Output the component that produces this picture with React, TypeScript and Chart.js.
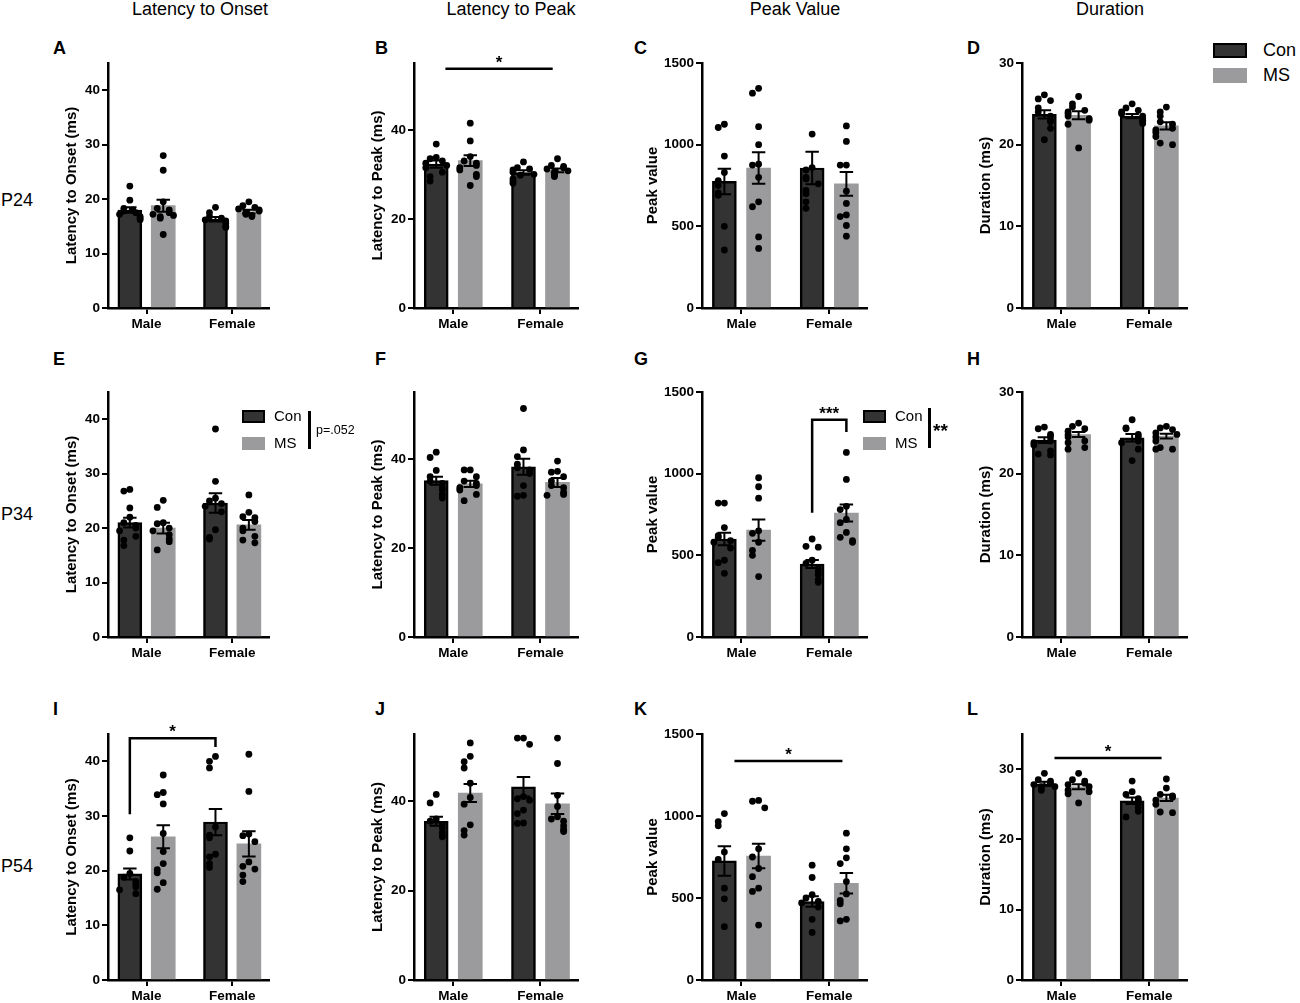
import React, { useEffect, useRef } from 'react';
import { Chart, registerables } from 'chart.js';

Chart.register(...registerables);

const FONT = '"Liberation Sans", Arial, Helvetica, sans-serif';
Chart.defaults.font.family = FONT;

const CATEGORIES = ['Male', 'Female'];
const COLUMN_TITLES = ['Latency to Onset', 'Latency to Peak', 'Peak Value', 'Duration'];
const ROW_LABELS = ['P24', 'P34', 'P54'];

const CON_FILL = '#333333';
const MS_FILL = '#9b9b9d';

// means / SEM per group: [Male, Female]; dots: [Male Con, Male MS, Female Con, Female MS]
// A – P24 latency to onset
const A_CON = [18.0, 16.3];
const A_CON_SEM = [0.5, 0.4];
const A_MS = [18.8, 17.7];
const A_MS_SEM = [1.1, 0.35];
const A_DOTS = [
  [22.4, 19.8, 18.3, 17.8, 17.5, 17.2, 16.8, 16.5, 16.2, 18.0],
  [28.0, 25.3, 19.5, 18.3, 18.0, 17.5, 17.2, 17.0, 16.8, 16.5, 13.5],
  [18.5, 17.5, 16.8, 16.5, 16.2, 16.0, 15.5, 15.0, 14.8],
  [19.5, 18.8, 18.5, 18.2, 18.0, 17.8, 17.5, 17.2, 17.0, 16.8],
];

// B – P24 latency to peak
const B_CON = [32.3, 30.4];
const B_CON_SEM = [0.8, 0.5];
const B_MS = [33.1, 30.9];
const B_MS_SEM = [1.2, 0.4];
const B_DOTS = [
  [36.8, 33.8, 33.5, 33.0, 32.5, 32.0, 31.5, 30.5, 29.5, 28.5],
  [41.5, 37.5, 34.0, 33.0, 32.5, 32.0, 31.5, 31.0, 30.0, 29.5, 27.5],
  [32.8, 31.5, 31.2, 31.0, 30.5, 30.0, 29.8, 29.0, 28.5, 28.0],
  [33.5, 32.0, 31.8, 31.5, 31.2, 30.8, 30.5, 30.0, 29.8, 29.5],
];

// C – P24 peak value
const C_CON = [775, 857];
const C_CON_SEM = [78, 100];
const C_MS = [857, 760];
const C_MS_SEM = [97, 72];
const C_DOTS = [
  [1125, 1105, 930, 830, 780, 750, 705, 690, 500, 355],
  [1345, 1315, 1110, 1000, 880, 875, 800, 650, 620, 435, 365],
  [1065, 860, 845, 800, 790, 760, 720, 700, 650, 610],
  [1115, 1020, 875, 875, 715, 640, 570, 560, 505, 440],
];

// D – P24 duration
const D_CON = [23.7, 23.5];
const D_CON_SEM = [0.5, 0.25];
const D_MS = [23.6, 22.3];
const D_MS_SEM = [0.5, 0.45];
const D_DOTS = [
  [26.1, 25.6, 25.4, 24.5, 24.0, 23.5, 23.0, 22.8, 22.0, 20.6],
  [25.9, 25.0, 24.6, 24.2, 24.0, 23.8, 23.5, 23.2, 23.0, 22.5, 19.6],
  [25.0, 24.5, 24.2, 24.0, 23.8, 23.5, 23.2, 23.0, 22.8, 22.6],
  [24.6, 24.0, 23.5, 22.8, 22.5, 22.0, 21.8, 21.5, 21.0, 20.2, 20.0],
];

// E – P34 latency to onset
const E_CON = [21.0, 24.6];
const E_CON_SEM = [0.9, 1.8];
const E_MS = [20.0, 20.6];
const E_MS_SEM = [1.0, 0.9];
const E_DOTS = [
  [27.1, 26.8, 23.7, 22.0, 21.0, 20.5, 20.0, 19.5, 18.5, 17.8, 16.8],
  [25.1, 23.8, 21.0, 20.8, 20.0, 19.5, 18.8, 18.0, 17.5, 16.0],
  [38.2, 28.6, 25.5, 25.0, 24.5, 24.0, 23.0, 19.7, 18.3, 18.0],
  [26.1, 22.9, 22.1, 21.9, 21.2, 20.0, 19.5, 18.5, 17.8, 17.3],
];

// F – P34 latency to peak
const F_CON = [35.1, 38.2];
const F_CON_SEM = [0.9, 1.8];
const F_MS = [34.4, 34.7];
const F_MS_SEM = [0.7, 1.0];
const F_DOTS = [
  [41.5, 40.3, 37.4, 36.0, 35.0, 34.5, 33.5, 33.0, 32.0, 31.2],
  [37.5, 37.5, 36.0, 35.0, 34.5, 34.0, 33.5, 33.0, 32.0, 30.6],
  [51.3, 42.0, 40.5, 38.8, 38.0, 37.5, 36.7, 34.0, 31.8, 31.6],
  [39.5, 37.2, 37.0, 36.0, 35.0, 34.0, 33.5, 32.5, 32.0, 31.8],
];

// G – P34 peak value
const G_CON = [600, 447];
const G_CON_SEM = [38, 25];
const G_MS = [655, 759];
const G_MS_SEM = [65, 52];
const G_DOTS = [
  [820, 820, 670, 620, 610, 590, 580, 545, 470, 455, 390],
  [975, 920, 850, 650, 635, 580, 530, 500, 370],
  [600, 555, 550, 470, 450, 420, 400, 380, 350, 335],
  [1130, 965, 800, 780, 720, 700, 640, 610, 590, 580],
];

// H – P34 duration
const H_CON = [24.1, 24.4];
const H_CON_SEM = [0.35, 0.45];
const H_MS = [24.8, 24.6];
const H_MS_SEM = [0.3, 0.3];
const H_DOTS = [
  [25.7, 25.5, 24.8, 24.5, 24.0, 23.8, 23.5, 22.8, 22.4, 22.3],
  [26.2, 25.8, 25.5, 25.2, 24.8, 24.5, 24.0, 23.8, 23.2, 23.0],
  [26.6, 25.6, 25.5, 24.8, 24.5, 24.0, 23.8, 23.0, 21.6],
  [25.8, 25.6, 25.4, 25.0, 24.8, 24.5, 24.0, 23.2, 23.0, 23.0],
];

// I – P54 latency to onset
const I_CON = [19.4, 28.9];
const I_CON_SEM = [1.0, 2.4];
const I_MS = [26.2, 24.9];
const I_MS_SEM = [2.1, 2.3];
const I_DOTS = [
  [26.0, 23.6, 19.5, 18.8, 18.0, 17.5, 17.0, 16.5, 15.8],
  [37.5, 34.3, 33.9, 32.2, 26.8, 23.5, 21.3, 20.2, 19.6, 17.8, 16.6],
  [40.9, 40.0, 38.8, 28.0, 26.5, 26.0, 23.0, 22.5, 21.3, 20.6],
  [41.3, 34.5, 26.7, 26.4, 25.3, 21.6, 20.8, 20.3, 19.2, 18.0],
];

// J – P54 latency to peak
const J_CON = [35.5, 43.2];
const J_CON_SEM = [1.0, 2.2];
const J_MS = [41.8, 39.4];
const J_MS_SEM = [2.0, 2.3];
const J_DOTS = [
  [41.5, 39.6, 36.0, 35.5, 34.8, 34.0, 33.0, 32.3, 32.0],
  [53.0, 50.0, 48.8, 47.4, 44.0, 40.8, 39.3, 34.7, 33.4, 32.4],
  [54.1, 54.1, 52.7, 41.0, 40.5, 40.2, 38.0, 37.2, 35.1, 35.0],
  [54.1, 48.4, 41.3, 38.8, 36.5, 36.0, 35.5, 34.5, 33.7, 33.2],
];

// K – P54 peak value
const K_CON = [726, 478];
const K_CON_SEM = [90, 32];
const K_MS = [756, 590];
const K_MS_SEM = [75, 62];
const K_DOTS = [
  [1015, 965, 940, 780, 735, 560, 495, 325],
  [1095, 1090, 1050, 800, 750, 680, 630, 560, 540, 335],
  [700, 625, 520, 500, 480, 470, 445, 370, 290],
  [895, 800, 745, 710, 600, 525, 485, 465, 370, 360],
];

// L – P54 duration
const L_CON = [27.9, 25.5];
const L_CON_SEM = [0.3, 0.45];
const L_MS = [27.5, 25.9];
const L_MS_SEM = [0.35, 0.45];
const L_DOTS = [
  [29.4, 28.5, 28.3, 28.0, 27.8, 27.5, 27.5, 27.2, 27.0],
  [29.4, 28.5, 28.3, 28.0, 27.8, 27.5, 27.0, 26.8, 26.5, 25.2],
  [28.3, 26.8, 26.4, 25.8, 25.5, 25.0, 24.5, 24.0, 23.2],
  [28.6, 27.3, 26.4, 26.2, 26.0, 25.6, 25.0, 23.9, 23.8],
];

// x axis runs in category units: Male = 0, Female = 1
const X_MIN = -0.45;
const X_MAX = 1.43;
// bar centre offset from category centre, in category units
const OFF = 0.195;
const BAR_PX = 24;

// layout of the grid of panels
const COL_AXIS_X = [108, 414, 702, 1022];
const COL_PLOT_W = [161, 164, 165, 165];
const ROW_TOP = [63, 392, 734];
const ROW_H = [245, 245, 246];
const COL_TITLE_X = [200, 511, 795, 1110];
const LETTER_X = [53, 375, 634, 967];
const LETTER_TOP = [38, 349, 699];
const ROW_LABEL_TOP = [190, 504, 856];
const PAD_T = 40;
const PAD_R = 12;
const X_H = 30;

type Bracket = { x1: number; x2: number; y: number; y1?: number; y2?: number; label: string };

const PANELS: any[] = [
  { letter: 'A', row: 0, col: 0, yTitle: 'Latency to Onset (ms)', max: 45, step: 10, con: A_CON, conSem: A_CON_SEM, ms: A_MS, msSem: A_MS_SEM, dots: A_DOTS, brackets: [] },
  { letter: 'B', row: 0, col: 1, yTitle: 'Latency to Peak (ms)', max: 55, step: 20, con: B_CON, conSem: B_CON_SEM, ms: B_MS, msSem: B_MS_SEM, dots: B_DOTS,
    brackets: [{ x1: -0.09, x2: 1.14, y: 53.7, label: '*' }] },
  { letter: 'C', row: 0, col: 2, yTitle: 'Peak value', max: 1500, step: 500, con: C_CON, conSem: C_CON_SEM, ms: C_MS, msSem: C_MS_SEM, dots: C_DOTS, brackets: [] },
  { letter: 'D', row: 0, col: 3, yTitle: 'Duration (ms)', max: 30, step: 10, con: D_CON, conSem: D_CON_SEM, ms: D_MS, msSem: D_MS_SEM, dots: D_DOTS, brackets: [] },
  { letter: 'E', row: 1, col: 0, yTitle: 'Latency to Onset (ms)', max: 45, step: 10, con: E_CON, conSem: E_CON_SEM, ms: E_MS, msSem: E_MS_SEM, dots: E_DOTS, brackets: [] },
  { letter: 'F', row: 1, col: 1, yTitle: 'Latency to Peak (ms)', max: 55, step: 20, con: F_CON, conSem: F_CON_SEM, ms: F_MS, msSem: F_MS_SEM, dots: F_DOTS, brackets: [] },
  { letter: 'G', row: 1, col: 2, yTitle: 'Peak value', max: 1500, step: 500, con: G_CON, conSem: G_CON_SEM, ms: G_MS, msSem: G_MS_SEM, dots: G_DOTS,
    brackets: [{ x1: 1 - OFF, x2: 1 + OFF, y: 1330, y1: 760, y2: 1255, label: '***' }] },
  { letter: 'H', row: 1, col: 3, yTitle: 'Duration (ms)', max: 30, step: 10, con: H_CON, conSem: H_CON_SEM, ms: H_MS, msSem: H_MS_SEM, dots: H_DOTS, brackets: [] },
  { letter: 'I', row: 2, col: 0, yTitle: 'Latency to Onset (ms)', max: 45, step: 10, con: I_CON, conSem: I_CON_SEM, ms: I_MS, msSem: I_MS_SEM, dots: I_DOTS,
    brackets: [{ x1: -OFF, x2: 1 - OFF, y: 44.2, y1: 30.3, y2: 42.6, label: '*' }] },
  { letter: 'J', row: 2, col: 1, yTitle: 'Latency to Peak (ms)', max: 55, step: 20, con: J_CON, conSem: J_CON_SEM, ms: J_MS, msSem: J_MS_SEM, dots: J_DOTS, brackets: [] },
  { letter: 'K', row: 2, col: 2, yTitle: 'Peak value', max: 1500, step: 500, con: K_CON, conSem: K_CON_SEM, ms: K_MS, msSem: K_MS_SEM, dots: K_DOTS,
    brackets: [{ x1: -0.08, x2: 1.15, y: 1335, label: '*' }] },
  { letter: 'L', row: 2, col: 3, yTitle: 'Duration (ms)', max: 35, step: 10, con: L_CON, conSem: L_CON_SEM, ms: L_MS, msSem: L_MS_SEM, dots: L_DOTS,
    brackets: [{ x1: -0.08, x2: 1.14, y: 31.6, label: '*' }] },
];

// sideways offsets for crowded dots, GraphPad-style
const SPREAD = [0, -0.07, 0.07, -0.12, 0.12, -0.035, 0.035, -0.095, 0.095, 0, -0.05, 0.05];

function spreadDots(values: number[], centre: number, span: number) {
  return values.map((v, i) => {
    let k = 0;
    for (let j = 0; j < i; j++) if (Math.abs(values[j] - v) < span) k++;
    return { x: centre + SPREAD[k % SPREAD.length], y: v };
  });
}

const errorBars = {
  id: 'errorBars',
  afterDatasetDraw(chart: any, args: any) {
    const ds = chart.data.datasets[args.index];
    if (!ds.sem) return;
    const y = chart.scales.y;
    const ctx = chart.ctx;
    ctx.save();
    ctx.strokeStyle = '#000';
    ctx.lineWidth = 2;
    args.meta.data.forEach((el: any, i: number) => {
      const mean = ds.data[i].y;
      const top = y.getPixelForValue(mean + ds.sem[i]);
      const bot = y.getPixelForValue(mean - ds.sem[i]);
      const half = el.width * 0.28;
      ctx.beginPath();
      ctx.moveTo(el.x, top);
      ctx.lineTo(el.x, bot);
      ctx.moveTo(el.x - half, top);
      ctx.lineTo(el.x + half, top);
      ctx.moveTo(el.x - half, bot);
      ctx.lineTo(el.x + half, bot);
      ctx.stroke();
    });
    ctx.restore();
  },
};

function bracketPlugin(items: Bracket[]) {
  return {
    id: 'brackets',
    afterDraw(chart: any) {
      const xs = chart.scales.x;
      const y = chart.scales.y;
      const ctx = chart.ctx;
      ctx.save();
      ctx.strokeStyle = '#000';
      ctx.fillStyle = '#000';
      ctx.lineWidth = 2.5;
      ctx.font = `bold 17px ${FONT}`;
      ctx.textAlign = 'center';
      ctx.textBaseline = 'alphabetic';
      items.forEach((b) => {
        const x1 = xs.getPixelForValue(b.x1);
        const x2 = xs.getPixelForValue(b.x2);
        const yy = y.getPixelForValue(b.y);
        ctx.beginPath();
        if (b.y1 != null) {
          ctx.moveTo(x1, y.getPixelForValue(b.y1));
          ctx.lineTo(x1, yy);
        } else {
          ctx.moveTo(x1, yy);
        }
        ctx.lineTo(x2, yy);
        if (b.y2 != null) ctx.lineTo(x2, y.getPixelForValue(b.y2));
        ctx.stroke();
        ctx.fillText(b.label, (x1 + x2) / 2, yy - 1);
      });
      ctx.restore();
    },
  };
}

function Panel({ p }: { p: any }) {
  const ref = useRef<HTMLCanvasElement>(null);
  const axisW = p.max >= 1000 ? 58 : 45;
  const plotW = COL_PLOT_W[p.col];
  const left = COL_AXIS_X[p.col] - axisW;
  const top = ROW_TOP[p.row] - PAD_T;
  const width = axisW + plotW + PAD_R;
  const height = PAD_T + ROW_H[p.row] + X_H;

  useEffect(() => {
    const span = p.max * 0.035;
    const conBars = p.con.map((v: number, i: number) => ({ x: i - OFF, y: v }));
    const msBars = p.ms.map((v: number, i: number) => ({ x: i + OFF, y: v }));
    const conDots = [
      ...spreadDots(p.dots[0], 0 - OFF, span),
      ...spreadDots(p.dots[2], 1 - OFF, span),
    ];
    const msDots = [
      ...spreadDots(p.dots[1], 0 + OFF, span),
      ...spreadDots(p.dots[3], 1 + OFF, span),
    ];
    const tickFont = { size: 13.5, weight: 'bold' as const };
    const chart = new Chart(ref.current as HTMLCanvasElement, {
      type: 'bar',
      data: {
        datasets: [
          { type: 'bar', label: 'Con', data: conBars, sem: p.conSem, grouped: false, barThickness: BAR_PX,
            backgroundColor: CON_FILL, borderColor: '#000', borderWidth: 2.5, borderSkipped: 'bottom', order: 2 } as any,
          { type: 'bar', label: 'MS', data: msBars, sem: p.msSem, grouped: false, barThickness: BAR_PX,
            backgroundColor: MS_FILL, borderWidth: 0, order: 2 } as any,
          { type: 'scatter', label: 'Con dots', data: conDots, pointRadius: 3.4, pointBackgroundColor: '#000', pointBorderWidth: 0, order: 1 } as any,
          { type: 'scatter', label: 'MS dots', data: msDots, pointRadius: 3.4, pointBackgroundColor: '#000', pointBorderWidth: 0, order: 1 } as any,
        ],
      },
      options: {
        animation: false,
        responsive: true,
        maintainAspectRatio: false,
        layout: { padding: { top: PAD_T, right: PAD_R, left: 0, bottom: 0 } },
        plugins: { legend: { display: false }, tooltip: { enabled: false } },
        scales: {
          x: {
            type: 'linear',
            min: X_MIN,
            max: X_MAX,
            offset: false,
            z: 1,
            afterBuildTicks: (s: any) => { s.ticks = CATEGORIES.map((_, i) => ({ value: i })); },
            grid: { offset: false, drawOnChartArea: false, drawTicks: true, tickLength: 6, color: '#000', lineWidth: 2 },
            border: { display: true, color: '#000', width: 2.5 },
            ticks: { color: '#000', font: tickFont, padding: 2, autoSkip: false, maxRotation: 0, callback: (v: any) => CATEGORIES[v] ?? '' },
            afterFit: (s: any) => { s.height = X_H; },
          },
          y: {
            type: 'linear',
            min: 0,
            max: p.max,
            grid: { drawOnChartArea: false, drawTicks: true, tickLength: 6, color: '#000', lineWidth: 2 },
            border: { display: true, color: '#000', width: 2.5 },
            ticks: { stepSize: p.step, includeBounds: false, color: '#000', font: tickFont, padding: 2, callback: (v: any) => String(v) },
            title: { display: true, text: p.yTitle, color: '#000', font: { size: 15, weight: 'bold' }, padding: 0 },
            afterFit: (s: any) => { s.width = axisW; },
          },
        } as any,
      },
      plugins: [errorBars, bracketPlugin(p.brackets)],
    });
    return () => chart.destroy();
  }, []);

  return (
    <div style={{ position: 'absolute', left, top, width, height }}>
      <canvas ref={ref} />
    </div>
  );
}

function Text({ x, y, size, bold, children, align, w }: any) {
  const style: any = {
    position: 'absolute', top: y, fontSize: size, lineHeight: '20px', fontFamily: FONT,
    fontWeight: bold ? 'bold' : 'normal', color: '#000', whiteSpace: 'nowrap',
  };
  if (align === 'center') {
    style.left = x - (w || 100);
    style.width = (w || 100) * 2;
    style.textAlign = 'center';
  } else {
    style.left = x;
  }
  return <div style={style}>{children}</div>;
}

function Swatch({ x, y, w, h, con }: any) {
  return (
    <div style={{
      position: 'absolute', left: x, top: y, width: w, height: h, boxSizing: 'border-box',
      background: con ? CON_FILL : MS_FILL, border: con ? '2px solid #000' : 'none',
    }} />
  );
}

function VBar({ x, y, h }: any) {
  return <div style={{ position: 'absolute', left: x, top: y, width: 2.5, height: h, background: '#000' }} />;
}

export default function App() {
  return (
    <div style={{ position: 'absolute', left: 0, top: 0, width: 1300, height: 1003, background: '#fff', overflow: 'hidden' }}>
      {COLUMN_TITLES.map((t, i) => (
        <Text key={t} x={COL_TITLE_X[i]} y={-1} size={18} align="center">{t}</Text>
      ))}
      {ROW_LABELS.map((t, i) => (
        <Text key={t} x={1} y={ROW_LABEL_TOP[i]} size={18}>{t}</Text>
      ))}
      {PANELS.map((p) => (
        <Text key={'l' + p.letter} x={LETTER_X[p.col]} y={LETTER_TOP[p.row]} size={18} bold>{p.letter}</Text>
      ))}
      {PANELS.map((p) => <Panel key={p.letter} p={p} />)}

      {/* legend beside panel D */}
      <Swatch x={1213} y={43} w={34} h={15} con />
      <Text x={1263} y={40} size={18}>Con</Text>
      <Swatch x={1213} y={68} w={34} h={15} />
      <Text x={1263} y={65} size={18}>MS</Text>

      {/* legend inside panel E */}
      <Swatch x={242} y={410} w={23} h={13} con />
      <Text x={274} y={406} size={15}>Con</Text>
      <Swatch x={242} y={437} w={23} h={13} />
      <Text x={274} y={433} size={15}>MS</Text>
      <VBar x={308} y={411} h={38} />
      <Text x={316} y={420} size={12.5}>p=.052</Text>

      {/* legend inside panel G */}
      <Swatch x={863} y={410} w={23} h={13} con />
      <Text x={895} y={406} size={15}>Con</Text>
      <Swatch x={863} y={437} w={23} h={13} />
      <Text x={895} y={433} size={15}>MS</Text>
      <VBar x={928} y={408} h={40} />
      <Text x={933} y={421} size={19} bold>**</Text>
    </div>
  );
}
